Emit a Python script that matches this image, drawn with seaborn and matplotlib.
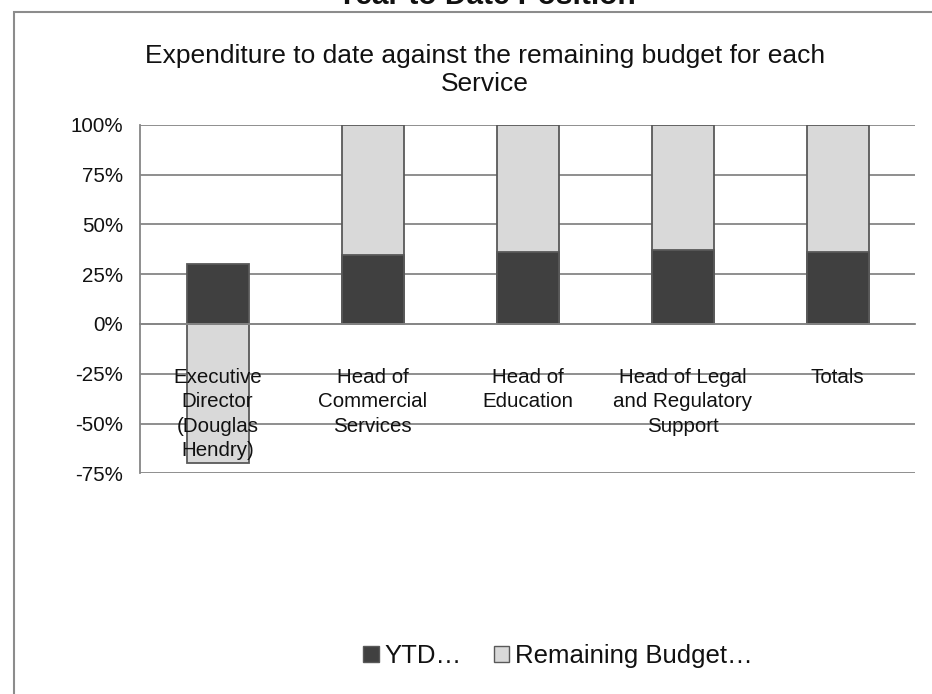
import numpy as np
import pandas as pd
import matplotlib
matplotlib.use("Agg")
import matplotlib.pyplot as plt
import seaborn as sns
from matplotlib.patches import Rectangle, Patch
from matplotlib.ticker import FixedLocator

# Share of each service's budget: spent to date vs. what is left
services = [
    "Executive\nDirector\n(Douglas\nHendry)",
    "Head of\nCommercial\nServices",
    "Head of\nEducation",
    "Head of Legal\nand Regulatory\nSupport",
    "Totals",
]
ytd_pct = [30.0, 34.4, 36.0, 37.2, 36.0]
remaining_pct = [-70.0, 65.6, 64.0, 62.8, 64.0]
y_ticks = [-75, -50, -25, 0, 25, 50, 75, 100]
legend_labels = ["YTD\u2026", "Remaining Budget\u2026"]

DARK = "#404040"
LIGHT = "#d9d9d9"
EDGE = "#595959"
GRID = "#868686"
INK = "#111111"

sns.set_style("white")
plt.rcParams["font.family"] = ["Liberation Sans", "DejaVu Sans"]

ytd = np.array(ytd_pct)
rem = np.array(remaining_pct)
# stacked segment: a positive remainder sits on top of the YTD part,
# a negative one hangs below zero
stack_top = np.where(rem >= 0, ytd + rem, rem)

df = pd.DataFrame({"service": services, "ytd": ytd, "stack": stack_top})

W, H = 932, 694
fig = plt.figure(figsize=(W / 100, H / 100), dpi=100)
ax = fig.add_axes([140 / W, 1 - 473.3 / H, 775 / W, 348.6 / H])

for v in y_ticks:
    ax.axhline(v, color=GRID, lw=1.3, zorder=0.3)

sns.barplot(data=df, x="service", y="stack", order=services, color=LIGHT,
            saturation=1, edgecolor=EDGE, linewidth=1.3, width=0.4,
            errorbar=None, ax=ax, zorder=1)
sns.barplot(data=df, x="service", y="ytd", order=services, color=DARK,
            saturation=1, edgecolor=EDGE, linewidth=1.3, width=0.4,
            errorbar=None, ax=ax, zorder=1)

# axis labels are drawn over the bars
ax.set_axisbelow(False)
ax.set_xlim(-0.5, len(services) - 0.5)
ax.set_ylim(y_ticks[0], y_ticks[-1])
ax.set_xlabel("")
ax.set_ylabel("")

ax.yaxis.set_major_locator(FixedLocator(y_ticks))
ax.set_yticklabels([f"{v}%" for v in y_ticks])
ax.tick_params(axis="y", direction="out", length=4, width=1.3, color=GRID,
               pad=8, labelsize=14.8, labelcolor=INK)

for side in ("top", "right"):
    ax.spines[side].set_visible(False)
ax.spines["left"].set_color(GRID)
ax.spines["left"].set_linewidth(1.3)
ax.spines["bottom"].set_position(("data", 0))
ax.spines["bottom"].set_color(GRID)
ax.spines["bottom"].set_linewidth(1.3)

ax.xaxis.set_minor_locator(FixedLocator(np.arange(len(services) + 1) - 0.5))
ax.tick_params(axis="x", which="minor", direction="out", length=6,
               width=1.3, color=GRID)
ax.tick_params(axis="x", which="major", length=0, pad=32, labelsize=14.8,
               labelcolor=INK)
for lbl in ax.get_xticklabels():
    lbl.set_linespacing(1.34)
    lbl.set_multialignment("center")

# outer chart-area border
fig.add_artist(Rectangle((14 / W, -0.1), 1.2, 1 - 11.5 / H + 0.1,
                         transform=fig.transFigure, fill=False,
                         edgecolor="#8c8c8c", lw=1.5))

fig.text(486 / W, 1 - 3.5 / H, "Year to Date Position", ha="center",
         va="baseline", fontsize=21.5, fontweight="bold", color=INK)
fig.text(485 / W, 1 - 70 / H,
         "Expenditure to date against the remaining budget for each\nService",
         ha="center", va="center", fontsize=19, linespacing=1.2,
         color=INK)

handles = [Patch(facecolor=DARK, edgecolor=EDGE, lw=1.0),
           Patch(facecolor=LIGHT, edgecolor=EDGE, lw=1.0)]
fig.legend(handles, legend_labels, loc="center",
           bbox_to_anchor=(558 / W, 1 - 656 / H), ncol=2, frameon=False,
           fontsize=18.5, handlelength=0.6, handleheight=0.58,
           handletextpad=0.22, columnspacing=1.25, labelcolor=INK)

fig.savefig("out.png", dpi=100)
